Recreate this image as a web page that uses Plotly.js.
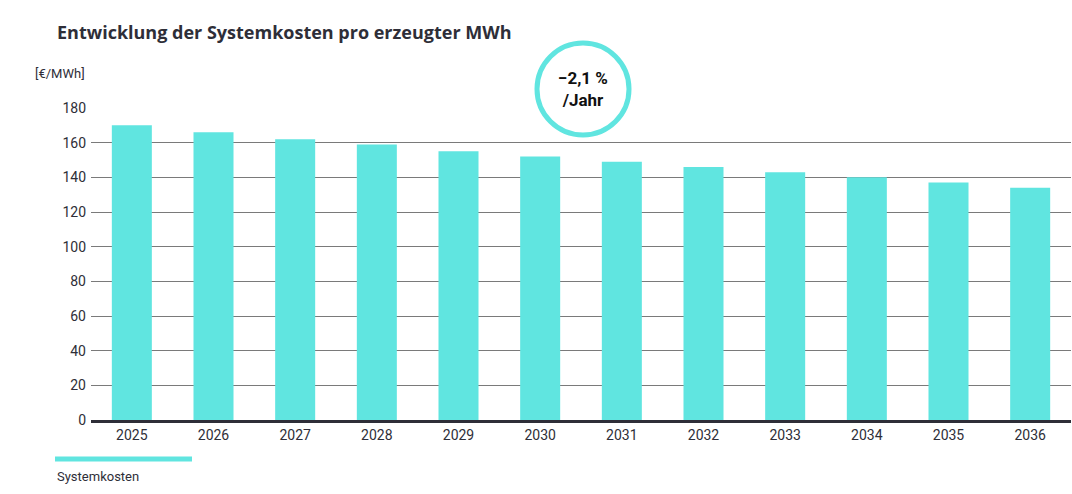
<!DOCTYPE html>
<html>
<head>
<meta charset="utf-8">
<script src="https://cdn.plot.ly/plotly-3.0.1.min.js"></script>
<style>html,body{margin:0;padding:0;background:#fff;}#chart{width:1072px;height:494px;}</style>
</head>
<body>
<div id="chart"></div>
<script>
const years = ['2025','2026','2027','2028','2029','2030','2031','2032','2033','2034','2035','2036'];
const systemkosten = [170, 166, 162, 159, 155, 152, 149, 146, 143, 140, 137, 134];
const seriesName = 'Systemkosten';
const yTicks = [0, 20, 40, 60, 80, 100, 120, 140, 160, 180];
const chartTitle = 'Entwicklung der Systemkosten pro erzeugter MWh';
const unitLabel = '[€/MWh]';
const badgeText = '<b>−2,1 %<br>/Jahr</b>';

const barColor = '#60e5e0';
const textColor = '#2e2e38';

const trace = {
  type: 'bar',
  x: years,
  y: systemkosten,
  name: seriesName,
  marker: {color: barColor},
  hoverinfo: 'x+y',
  showlegend: false
};

const layout = {
  width: 1072,
  height: 494,
  margin: {l: 91, r: 1, t: 108, b: 74},
  paper_bgcolor: '#ffffff',
  plot_bgcolor: '#ffffff',
  font: {family: 'Roboto, "Open Sans", sans-serif', color: textColor, size: 14},
  bargap: 0.51,
  title: {
    text: '<b>' + chartTitle + '</b>',
    font: {family: '"Open Sans", Roboto, sans-serif', size: 18, color: textColor},
    xref: 'container', x: 57 / 1072, xanchor: 'left',
    yref: 'container', y: 1 - 33 / 494, yanchor: 'middle'
  },
  xaxis: {
    type: 'category',
    showgrid: false,
    showline: true,
    linecolor: '#2e2e38',
    linewidth: 3,
    ticks: '',
    tickfont: {size: 14, color: textColor},
    range: [-0.5, 11.5],
    fixedrange: true
  },
  yaxis: {
    range: [0, 180],
    tickvals: yTicks,
    ticktext: yTicks.map(String),
    showgrid: true,
    gridcolor: '#7a7a7a',
    gridwidth: 1,
    zeroline: false,
    showline: false,
    ticks: '',
    ticklabelstandoff: 4,
    tickfont: {size: 14, color: textColor},
    fixedrange: true
  },
  shapes: [
    {
      type: 'circle', xref: 'paper', yref: 'paper', layer: 'above',
      x0: (537 - 91) / 980, x1: (629 - 91) / 980,
      y0: (420 - 135) / 312, y1: (420 - 43) / 312,
      line: {color: barColor, width: 5},
      fillcolor: '#ffffff'
    },
    {
      type: 'line', xref: 'paper', yref: 'paper', layer: 'above',
      x0: (55 - 91) / 980, x1: (192 - 91) / 980,
      y0: (420 - 459) / 312, y1: (420 - 459) / 312,
      line: {color: barColor, width: 5}
    }
  ],
  annotations: [
    {
      text: unitLabel, xref: 'paper', yref: 'paper', showarrow: false,
      x: (33 - 91) / 980, xanchor: 'left', y: (420 - 74) / 312, yanchor: 'middle',
      font: {size: 13, color: textColor}
    },
    {
      text: badgeText, xref: 'paper', yref: 'paper', showarrow: false,
      x: (583 - 91) / 980, xanchor: 'center', y: (420 - 89) / 312, yanchor: 'middle',
      font: {size: 17, color: '#111111', family: 'Roboto, sans-serif'},
      align: 'center'
    },
    {
      text: seriesName, xref: 'paper', yref: 'paper', showarrow: false,
      x: (55 - 91) / 980, xanchor: 'left', y: (420 - 476) / 312, yanchor: 'middle',
      font: {size: 13, color: textColor}
    }
  ]
};

Plotly.newPlot('chart', [trace], layout, {displayModeBar: false, staticPlot: true});
</script>
</body>
</html>
